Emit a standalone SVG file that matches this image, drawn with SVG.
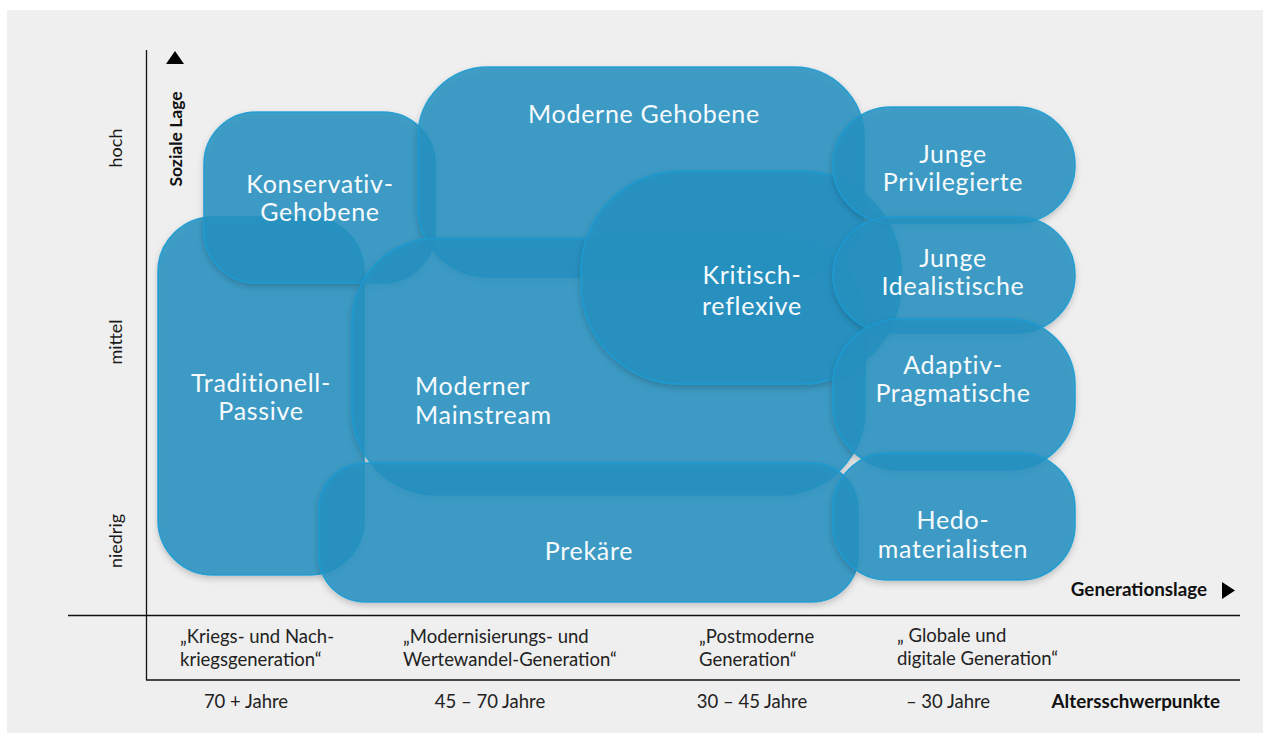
<svg xmlns="http://www.w3.org/2000/svg" width="1270" height="733" viewBox="0 0 1270 733">
<defs>
<filter id="sh" x="-10%" y="-10%" width="120%" height="130%">
<feDropShadow dx="0" dy="3" stdDeviation="3" flood-color="#000" flood-opacity="0.22"/>
</filter>
</defs>
<style>
.blob{fill:rgb(38,145,193);fill-opacity:0.855;stroke:#1b9bd3;stroke-width:1.6;stroke-opacity:0.9;filter:url(#sh)}
.lbl{font-family:Lato,"Open Sans",sans-serif;font-size:25px;letter-spacing:0.7px;fill:#f7fafc;text-anchor:middle}
.lbl.st{text-anchor:start}
.ax{font-family:Lato,"Open Sans",sans-serif;font-size:18px;fill:#1a1a1a;text-anchor:middle}
.axb{font-family:Lato,"Open Sans",sans-serif;font-size:18.8px;font-weight:bold;fill:#111;text-anchor:end}
.gen{font-family:Lato,"Open Sans",sans-serif;font-size:18.5px;fill:#222}
.age{font-family:Lato,"Open Sans",sans-serif;font-size:18.5px;fill:#222;text-anchor:middle}
.line{stroke:#111;stroke-width:1.3;fill:none}
</style>
<rect x="0" y="0" width="1270" height="733" fill="#ffffff"/>
<rect x="7" y="10" width="1256" height="723" fill="#efefef"/>

<g id="axes">
<line class="line" x1="146.5" y1="50" x2="146.5" y2="680"/>
<line class="line" x1="68" y1="615.5" x2="1240" y2="615.5"/>
<line class="line" x1="146" y1="680" x2="1240" y2="680"/>
<path d="M166,64 L175,51 L184,64 Z" fill="#000"/>
<path d="M1222,582 L1235,590.5 L1222,599 Z" fill="#000"/>
<text class="axb" transform="translate(182,139) rotate(-90)" style="text-anchor:middle;font-size:17.5px">Soziale Lage</text>
<text class="ax" transform="translate(122,148) rotate(-90)">hoch</text>
<text class="ax" transform="translate(122,342) rotate(-90)">mittel</text>
<text class="ax" transform="translate(122,541) rotate(-90)">niedrig</text>
<text class="axb" x="1207" y="596">Generationslage</text>
<text class="axb" x="1220" y="708">Altersschwerpunkte</text>
</g>

<g id="generations">
<text class="gen" x="180" y="643">„Kriegs- und Nach-<tspan x="180" dy="23">kriegsgeneration“</tspan></text>
<text class="gen" x="403" y="643">„Modernisierungs- und<tspan x="403" dy="23">Wertewandel-Generation“</tspan></text>
<text class="gen" x="699" y="643">„Postmoderne<tspan x="699" dy="23">Generation“</tspan></text>
<text class="gen" x="897" y="642">„ Globale und<tspan x="897" dy="23">digitale Generation“</tspan></text>
<text class="age" x="246" y="708">70 + Jahre</text>
<text class="age" x="490" y="708">45 – 70 Jahre</text>
<text class="age" x="752" y="708">30 – 45 Jahre</text>
<text class="age" x="948" y="708">– 30 Jahre</text>
</g>

<g id="connectors"></g>

<g id="traditionell-passive">
<rect class="blob" x="158" y="217" width="206" height="358" rx="55" ry="55"/>
<text class="lbl" x="261" y="392">Traditionell-<tspan x="261" dy="28">Passive</tspan></text>
</g>
<g id="konservativ-gehobene">
<rect class="blob" x="204" y="112" width="231" height="171" rx="52" ry="52"/>
<text class="lbl" x="320" y="193">Konservativ-<tspan x="320" dy="28">Gehobene</tspan></text>
</g>
<g id="moderne-gehobene">
<rect class="blob" x="418" y="67" width="446" height="210" rx="70" ry="70"/>
<text class="lbl" x="644" y="123">Moderne Gehobene</text>
</g>
<g id="moderner-mainstream">
<rect class="blob" x="352" y="238" width="513" height="257" rx="85" ry="85"/>
<text class="lbl st" x="415" y="395">Moderner<tspan x="415" dy="29">Mainstream</tspan></text>
</g>
<g id="prekaere">
<rect class="blob" x="319" y="463" width="539" height="139" rx="46" ry="46"/>
<text class="lbl" x="589" y="560">Prekäre</text>
</g>
<g id="kritisch-reflexive">
<rect class="blob" x="581" y="171" width="320" height="213" rx="100" ry="100"/>
<text class="lbl" x="752" y="284">Kritisch-<tspan x="752" dy="31">reflexive</tspan></text>
</g>
<g id="junge-privilegierte">
<rect class="blob" x="833" y="107" width="242" height="116" rx="58" ry="58"/>
<text class="lbl" x="953" y="163">Junge<tspan x="953" dy="28">Privilegierte</tspan></text>
</g>
<g id="junge-idealistische">
<rect class="blob" x="833" y="217" width="242" height="116" rx="58" ry="58"/>
<text class="lbl" x="953" y="267">Junge<tspan x="953" dy="28">Idealistische</tspan></text>
</g>
<g id="adaptiv-pragmatische">
<rect class="blob" x="833" y="319" width="242" height="151" rx="66" ry="66"/>
<text class="lbl" x="953" y="374">Adaptiv-<tspan x="953" dy="28">Pragmatische</tspan></text>
</g>
<g id="hedo-materialisten">
<rect class="blob" x="833" y="453" width="242" height="127" rx="55" ry="55"/>
<text class="lbl" x="953" y="529">Hedo-<tspan x="953" dy="29">materialisten</tspan></text>
</g>
</svg>
